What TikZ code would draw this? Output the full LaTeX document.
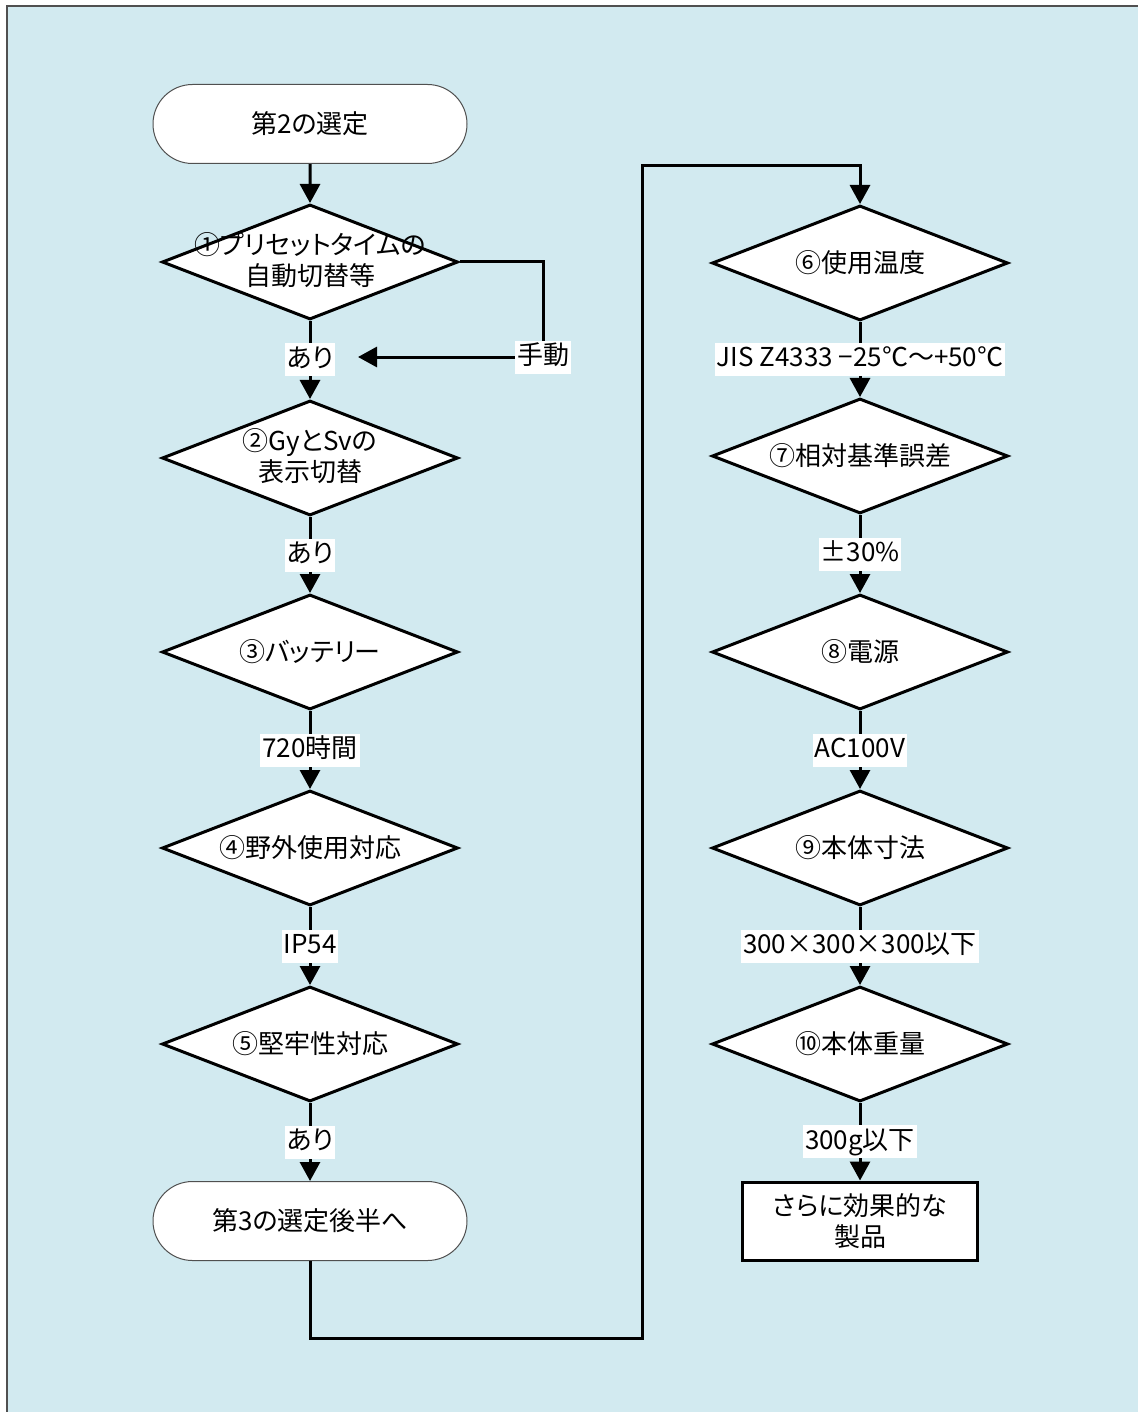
\documentclass[tikz,border=0pt]{standalone}
\usepackage{fontspec}
\setmainfont{Noto Sans CJK JP}[RawFeature=+palt]
\usetikzlibrary{shapes.geometric,shapes.misc,arrows.meta}
\definecolor{bgblue}{RGB}{210,234,240}
\definecolor{framegray}{RGB}{80,80,80}
\begin{document}
\begin{tikzpicture}[x=1pt,y=-1pt,
  every node/.style={font=\fontsize{26}{31}\selectfont},
  term/.style={rounded rectangle, draw=framegray, line width=1pt, fill=white,
    minimum width=314pt, minimum height=79pt, inner sep=0pt},
  dia/.style={diamond, draw, line width=3pt, fill=white,
    minimum width=296pt, minimum height=115pt, inner sep=0pt},
  dtext/.style={align=center, inner sep=0pt},
  lbl/.style={fill=white, inner xsep=2pt, inner ysep=3pt, text height=21pt, text depth=6pt},
  endbox/.style={rectangle, draw, line width=3pt, fill=white,
    minimum width=235pt, minimum height=78pt, align=center},
  arr/.style={line width=3pt, -{Triangle[width=20pt,length=19pt]}},
  conn/.style={line width=3pt}]
\useasboundingbox (0,0) rectangle (1138,1412);
\fill[white] (0,0) rectangle (1138,1412);
\fill[bgblue] (7,6) rectangle (1138,1412);
\draw[framegray, line width=2pt] (7,1412) -- (7,6) -- (1138,6);

% left column
\node[term] (t1) at (310,124) {第2の選定};
\node[dia] (d1) at (310,262) {};
\node[dtext] (d1t) at (310,260) {①プリセットタイムの\\自動切替等};
\node[dia] (d2) at (310,458) {};
\node[dtext] (d2t) at (310,456) {②GyとSvの\\表示切替};
\node[dia] (d3) at (310,652) {};
\node[dtext] (d3t) at (d3) {③バッテリー};
\node[dia] (d4) at (310,848) {};
\node[dtext] (d4t) at (d4) {④野外使用対応};
\node[dia] (d5) at (310,1044) {};
\node[dtext] (d5t) at (d5) {⑤堅牢性対応};
\node[term] (t2) at (310,1221) {第3の選定後半へ};

% right column
\node[dia] (d6) at (860,263) {};
\node[dtext] (d6t) at (d6) {⑥使用温度};
\node[dia] (d7) at (860,456) {};
\node[dtext] (d7t) at (d7) {⑦相対基準誤差};
\node[dia] (d8) at (860,652) {};
\node[dtext] (d8t) at (d8) {⑧電源};
\node[dia] (d9) at (860,848) {};
\node[dtext] (d9t) at (d9) {⑨本体寸法};
\node[dia] (d10) at (860,1044) {};
\node[dtext] (d10t) at (d10) {⑩本体重量};
\node[endbox] (r) at (860,1221) {さらに効果的な\\製品};

% connectors left
\draw[arr] (t1) -- (d1);
\draw[arr] (d1) -- node[lbl] (l1) {あり} (d2);
\draw[arr] (d2) -- node[lbl] (l2) {あり} (d3);
\draw[arr] (d3) -- node[lbl] (l3) {720時間} (d4);
\draw[arr] (d4) -- node[lbl] (l4) {IP54} (d5);
\draw[arr] (d5) -- node[lbl] (l5) {あり} (t2);

% manual branch
\coordinate (mc) at (543,357);
\coordinate (mtip) at (358,357);
\draw[arr] (d1.east) -| (mc) -- (mtip);
\node[lbl] (m) at (mc) {手動};

% long connector to right column
\coordinate (b1) at (642,1338);
\coordinate (b2) at (642,166);
\draw[arr] (t2.south) |- (b1) -- (b2) -| (d6.north);

% connectors right
\draw[arr] (d6) -- node[lbl] (l6) {JIS Z4333 −25℃～+50℃} (d7);
\draw[arr] (d7) -- node[lbl] (l7) {±30\%} (d8);
\draw[arr] (d8) -- node[lbl] (l8) {AC100V} (d9);
\draw[arr] (d9) -- node[lbl] (l9) {300×300×300以下} (d10);
\draw[arr] (d10) -- node[lbl] (l10) {300g以下} (r);
\end{tikzpicture}
\end{document}
